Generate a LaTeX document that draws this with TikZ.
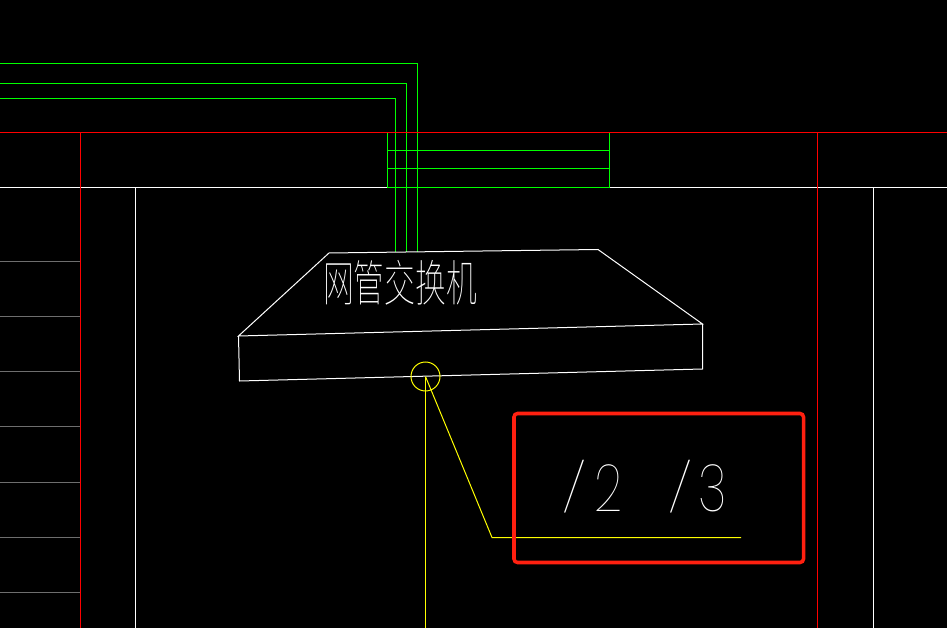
\documentclass[tikz,border=0pt]{standalone}
\usepackage{fontspec}
\usepackage{xcolor}
\usepackage{graphicx}
\usetikzlibrary{positioning}
\newfontfamily\cjkthin[UprightFont=* Thin]{Noto Sans CJK SC}
\newfontfamily\numthin[UprightFont=* Thin]{Poppins}
\newcommand{\tagslash}{\raisebox{3.4pt}{\scalebox{1.35}[0.735]{/}}}
\definecolor{cadgreen}{RGB}{0,255,0}
\definecolor{cadred}{RGB}{255,0,0}
\definecolor{cadyellow}{RGB}{255,255,0}
\definecolor{cadgrey}{RGB}{110,110,110}
\definecolor{markred}{RGB}{255,32,16}
\tikzset{
    wall/.style={draw=cadred, line width=0.57pt},
    pipe/.style={draw=cadgreen, line width=0.57pt},
    outline/.style={draw=white, line width=0.57pt},
    thinline/.style={draw=cadgrey, line width=0.57pt},
    leader/.style={draw=cadyellow, line width=0.57pt},
    marker/.style={draw=markred, line width=2pt, rounded corners=2pt},
    textlabel/.style={text=white, inner sep=0pt, anchor=center}
}
\begin{document}
\begin{tikzpicture}[x=0.02cm, y=-0.02cm]
    \fill[black] (0,0) rectangle (947,628);
    \useasboundingbox (0,0) rectangle (947,628);
    % Outlines
    \draw [outline] (0,187.5) -- (387.5,187.5);
    \draw [outline] (609.5,187.5) -- (947,187.5);
    \draw [outline] (135.5,187.5) -- (135.5,628);
    \draw [outline] (873.5,187.5) -- (873.5,628);
    \foreach \y in {261.5,316.5,371.5,426.5,482.5,537.5,592.5} {
        \draw [thinline] (0,\y) -- (80.5,\y);
    }
    % Pipes
    \draw [pipe] (387.5,132.5) rectangle (609.5,187.5);
    \draw [pipe] (387.5,150.5) -- (609.5,150.5);
    \draw [pipe] (387.5,168.5) -- (609.5,168.5);
    \draw [pipe] (0,63.5) -| (417.5,252);
    \draw [pipe] (0,83.5) -| (406.5,252);
    \draw [pipe] (0,98.5) -| (395.5,252);
    % Walls
    \draw [wall] (0,132.5) -- (947,132.5);
    \draw [wall] (80.5,132.5) -- (80.5,628);
    \draw [wall] (817.5,132.5) -- (817.5,628);
    % Switch
    \draw [outline] (329,253) -- (598,249.5) -- (702.5,324) -- (238.5,336) -- cycle;
    \draw [outline] (238.5,336) -- (239.5,381) -- (702.5,369) -- (702.5,324);
    \node (name) [textlabel, font=\cjkthin\fontsize{28}{28}\selectfont, xscale=0.626, transform shape] at (400,283) {网管交换机};
    % Leader
    \node (dot) [circle, leader, minimum size=0.58cm, inner sep=0pt] at (425.5,376.5) {};
    \draw [leader] (dot.center) -- (425.5,628);
    \draw [leader] (dot.center) -- (492,537.5) -- (741,537.5);
    \node (tag) [textlabel, font=\numthin\fontsize{37.5}{37.5}\selectfont, xscale=0.75, transform shape] at (644.5,487) {\tagslash\hspace{6pt}2\hspace{35pt}\tagslash\hspace{4.5pt}3};
    % Mark
    \draw [marker] (514,413.5) rectangle (803.5,562.5);
\end{tikzpicture}
\end{document}
